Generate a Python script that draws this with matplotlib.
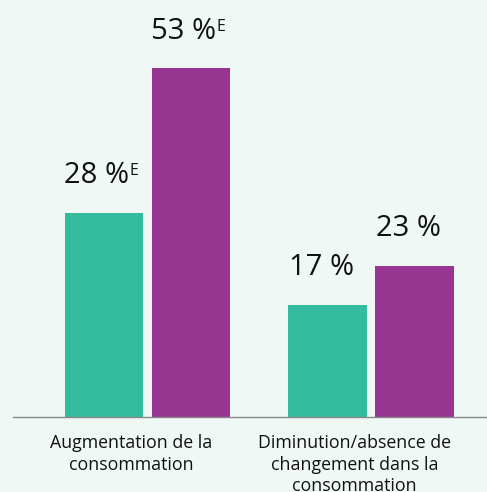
import matplotlib
matplotlib.use("Agg")
import matplotlib.pyplot as plt
import numpy as np

plt.rcParams["font.family"] = ["Open Sans", "DejaVu Sans"]

categories = ["Augmentation de la\nconsommation",
              "Diminution/absence de\nchangement dans la\nconsommation"]
teal_vals = [31, 17]
purple_vals = [53, 23]
teal_labels = ["28 %", "17 %"]
purple_labels = ["53 %", "23 %"]
teal_sup = ["E", ""]
purple_sup = ["E", ""]

teal = "#35bc9f"
purple = "#973591"
bg = "#f0f8f5"

fig = plt.figure(figsize=(4.87, 4.92), dpi=100, facecolor=bg)
ax = fig.add_axes([13 / 487, 75 / 492, 474 / 487, 417 / 492])
ax.set_facecolor(bg)

x = np.arange(len(categories))
off = 0.195
w = 0.35
b1 = ax.bar(x - off, teal_vals, w, color=teal)
b2 = ax.bar(x + off, purple_vals, w, color=purple)

ax.set_xlim(-0.605, 1.52)
ax.set_ylim(0, 63.4)

fig.canvas.draw()
rend = fig.canvas.get_renderer()

# labels above bars, with a small "E" set after the text when needed
for bars, labs, sups in [(b1, teal_labels, teal_sup), (b2, purple_labels, purple_sup)]:
    for r, lab, sup in zip(bars, labs, sups):
        dx = -6 if sup else -4
        t = ax.annotate(lab, (r.get_x() + r.get_width() / 2, r.get_height()),
                        xytext=(dx, 21.5), textcoords="offset points",
                        ha="center", va="baseline", fontsize=21, color="#111111")
        if sup:
            bb = t.get_window_extent(rend)
            fig.text(bb.x1 + 1, bb.y1 - 2, sup, ha="left", va="top",
                     fontsize=11.5, color="#111111", transform=None)

for xi, cat in zip(x, categories):
    ax.annotate(cat, (xi - 0.075, 0), xytext=(0, -12.5), textcoords="offset points",
                ha="center", va="top", fontsize=12.8, color="#111111",
                linespacing=1.25, annotation_clip=False)

for s in ["top", "right", "left"]:
    ax.spines[s].set_visible(False)
ax.spines["bottom"].set_color("#888888")
ax.spines["bottom"].set_linewidth(1)
ax.set_xticks([])
ax.set_yticks([])

fig.savefig("out.png", dpi=100, facecolor=bg)
